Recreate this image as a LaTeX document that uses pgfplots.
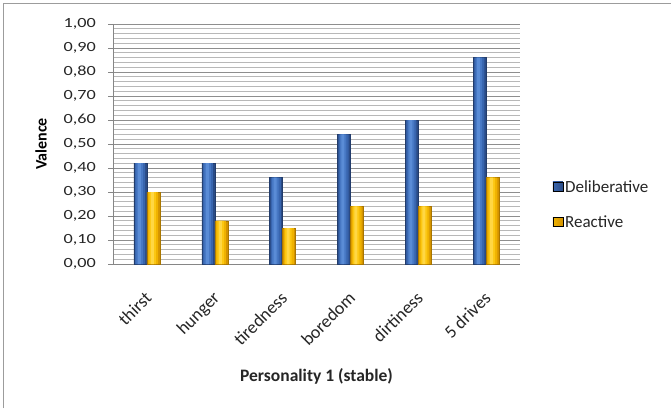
\documentclass[border=0pt]{standalone}
\usepackage{pgfplots}
\pgfplotsset{compat=1.18}
\usepackage{pgfplotstable}
\usepackage{fontspec}
\setmainfont{Carlito}
\newfontfamily\tickfont[FakeStretch=1.3]{Carlito}

\definecolor{frameGray}{HTML}{9C9C9C}
\definecolor{axisGray}{HTML}{868686}
\definecolor{textGray}{HTML}{262626}
\definecolor{majorGrid}{HTML}{8E8E8E}
\definecolor{minorGrid}{HTML}{B8B8B8}
% column shades, from the edge in to the highlight
\definecolor{blueA}{HTML}{2A4B86}
\definecolor{blueB}{HTML}{3865AE}
\definecolor{blueC}{HTML}{4778C4}
\definecolor{blueD}{HTML}{5A8CD6}
\definecolor{yelA}{HTML}{D39300}
\definecolor{yelB}{HTML}{EFB200}
\definecolor{yelC}{HTML}{FCC712}
\definecolor{yelD}{HTML}{FFD744}

\pgfplotstableread{
x  val
0  0.42
1  0.42
2  0.36
3  0.54
4  0.60
5  0.86
}\deliberative
\pgfplotstableread{
x  val
0  0.30
1  0.18
2  0.15
3  0.24
4  0.24
5  0.36
}\reactive

\begin{document}
\begin{tikzpicture}[x=1pt,y=1pt]
\useasboundingbox (0,0) rectangle (671,408);
\fill[white] (0,0) rectangle (671,408);
\draw[frameGray, line width=1.3pt] (3.5,0) -- (3.5,404.5) -- (671,404.5);

\begin{axis}[
  at={(113pt,144pt)}, anchor=south west,
  scale only axis, width=407pt, height=240pt,
  xmin=-0.5, xmax=5.5, ymin=0, ymax=1,
  axis x line*=bottom, axis y line*=left,
  axis line style={axisGray, line width=0.8pt},
  xtick={0,1,2,3,4,5},
  xticklabels={thirst,hunger,tiredness,boredom,dirtiness,5 drives},
  xtick style={draw=none},
  xticklabel style={xshift=-3pt, yshift=-21pt, rotate=45, anchor=north east,
    inner sep=0pt, font=\fontsize{18}{20}\selectfont, text=textGray},
  ytick={0,0.1,...,1.0},
  minor y tick num=4,
  tick align=outside, major tick length=5pt, minor tick length=0pt,
  ytick style={axisGray, line width=0.8pt},
  ymajorgrids, yminorgrids,
  major grid style={majorGrid, line width=0.8pt},
  minor grid style={minorGrid, line width=0.7pt},
  /pgf/number format/assume math mode=true,
  yticklabel style={font=\tickfont\fontsize{14}{16}\selectfont, text=textGray,
    anchor=east, inner sep=0pt, xshift=-12pt,
    /pgf/number format/.cd, fixed, fixed zerofill, precision=2, use comma},
  ylabel={\bfseries Valence},
  ylabel style={at={(axis description cs:-0.177,0.5)}, anchor=center,
    font=\fontsize{16}{18}\selectfont},
  xlabel={\bfseries Personality 1 (stable)},
  xlabel style={at={(axis description cs:0.5,-0.467)}, anchor=center,
    font=\fontsize{17.5}{20}\selectfont, text=textGray},
  ybar=0pt,
  legend style={at={(rel axis cs:1.08,0.248)}, anchor=west, draw=none,
    fill=none, inner sep=0pt, row sep=18pt,
    font=\fontsize{17}{19}\selectfont, text=textGray,
    /tikz/every even column/.append style={column sep=6pt}},
  legend cell align=left,
  legend image code/.code={\fill[#1] (0pt,-4.5pt) rectangle (10pt,5pt);},
]
% legend swatches
\addlegendimage{left color=blueB, middle color=blueD, right color=blueA}
\addlegendentry{Deliberative}
\addlegendimage{left color=yelB, middle color=yelD, right color=yelA}
\addlegendentry{Reactive}

% Deliberative columns, layered from the dark rim to the bright centre
\addplot[forget plot, fill=blueA, draw=blueA!80!black, line width=0.4pt,
  bar width=13pt, bar shift=-6.5pt] table[x=x, y=val] {\deliberative};
\addplot[forget plot, fill=blueB, draw=none,
  bar width=10pt, bar shift=-6.8pt] table[x=x, y=val] {\deliberative};
\addplot[forget plot, fill=blueC, draw=none,
  bar width=6.5pt, bar shift=-7.2pt] table[x=x, y=val] {\deliberative};
\addplot[forget plot, fill=blueD, draw=none,
  bar width=3pt, bar shift=-7.5pt] table[x=x, y=val] {\deliberative};

% Reactive columns
\addplot[forget plot, fill=yelA, draw=yelA!80!black, line width=0.4pt,
  bar width=13pt, bar shift=6.5pt] table[x=x, y=val] {\reactive};
\addplot[forget plot, fill=yelB, draw=none,
  bar width=10pt, bar shift=6.2pt] table[x=x, y=val] {\reactive};
\addplot[forget plot, fill=yelC, draw=none,
  bar width=6.5pt, bar shift=5.8pt] table[x=x, y=val] {\reactive};
\addplot[forget plot, fill=yelD, draw=none,
  bar width=3pt, bar shift=5.5pt] table[x=x, y=val] {\reactive};
\end{axis}
\end{tikzpicture}
\end{document}
